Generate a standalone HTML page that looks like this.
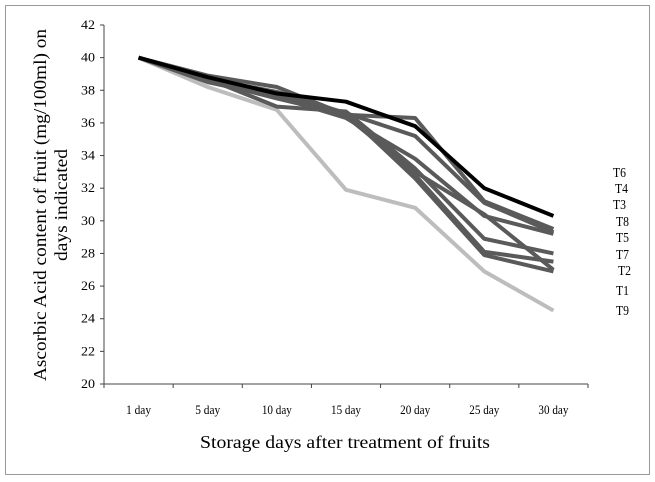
<!DOCTYPE html>
<html><head><meta charset="utf-8"><style>
html,body{margin:0;padding:0;background:#fff;}
svg{display:block;}
svg text{font-family:"Liberation Serif","Times New Roman",serif;}
</style></head><body>
<svg id="chart" width="655" height="482" viewBox="0 0 655 482">
<rect x="5.5" y="5.5" width="644" height="469" fill="#fff" stroke="#999" stroke-width="1"/>
<g id="axes"></g>
<g id="series"></g>
<g id="labels"></g>
<text x="345" y="448" text-anchor="middle" font-size="18" textLength="290" lengthAdjust="spacingAndGlyphs">Storage days after treatment of fruits</text>
<text transform="translate(46,205) rotate(-90)" text-anchor="middle" font-size="18"><tspan x="0" y="0" textLength="352" lengthAdjust="spacingAndGlyphs">Ascorbic Acid content of fruit (mg/100ml) on</tspan><tspan x="0" y="21" textLength="112" lengthAdjust="spacingAndGlyphs">days indicated</tspan></text>
</svg>
<script>
const categories = ["1 day","5 day","10 day","15 day","20 day","25 day","30 day"];
const yTicks = [20,22,24,26,28,30,32,34,36,38,40,42];
const seriesNames = ["T9","T1","T2","T7","T5","T8","T3","T4","T6"];
const T9 = [40,38.2,36.8,31.9,30.8,26.9,24.5];
const T1 = [40,38.5,37.6,36.6,32.6,27.9,26.9];
const T2 = [40,38.7,37.7,36.4,33.0,30.4,27.0];
const T7 = [40,38.6,37.5,36.5,32.8,28.1,27.5];
const T5 = [40,38.7,37.0,36.7,33.2,28.9,28.0];
const T8 = [40,38.8,37.6,36.3,33.8,30.3,29.2];
const T3 = [40,38.7,37.9,36.6,35.2,31.1,29.3];
const T4 = [40,38.9,38.2,36.5,36.3,31.2,29.5];
const T6 = [40,38.8,37.8,37.3,35.8,32.0,30.3];
const seriesValues = [T9,T1,T2,T7,T5,T8,T3,T4,T6];
const labelOrder = ["T6","T4","T3","T8","T5","T7","T2","T1","T9"];

const NS="http://www.w3.org/2000/svg";
const x0=104,x1=588,yTop=25,yBot=384,yMin=20,yMax=42;
const bw=(x1-x0)/categories.length;
function xPos(i){return x0+bw*(i+0.5);}
function yPos(v){return yBot-(v-yMin)/(yMax-yMin)*(yBot-yTop);}
function mk(tag,attrs,parent){const e=document.createElementNS(NS,tag);for(const k in attrs)e.setAttribute(k,attrs[k]);parent.appendChild(e);return e;}
const axes=document.getElementById('axes');
let e=mk('line',{x1:x0,y1:yTop,x2:x0,y2:yBot,stroke:'#444','stroke-width':1},axes);


e=mk('line',{x1:x0,y1:yBot,x2:x1,y2:yBot,stroke:'#444','stroke-width':1},axes);


yTicks.forEach(t=>{
  const y=yPos(t);
  const l=mk('line',{x1:x0-4,y1:y,x2:x0,y2:y,stroke:'#444'},axes);
  
  
  const tx=mk('text',{x:x0-9,y:y+4,'text-anchor':'end','font-size':13,textLength:14,lengthAdjust:'spacingAndGlyphs'},axes);
  tx.textContent=t;
  
  
});
for(let i=0;i<=categories.length;i++){
  const x=x0+bw*i;
  const l=mk('line',{x1:x,y1:yBot,x2:x,y2:yBot+4,stroke:'#444'},axes);
  
  
}
categories.forEach((c,i)=>{
  const tx=mk('text',{x:xPos(i),y:414,'text-anchor':'middle','font-size':13,textLength:c.length>5?30:25,lengthAdjust:'spacingAndGlyphs'},axes);
  tx.textContent=c;
  
  
});
const sg=document.getElementById('series');
seriesNames.forEach((n,si)=>{
  const vals=seriesValues[si];
  const col=n==='T9'?'#bdbdbd':(n==='T6'?'#000':'#5a5a5a');
  const p=mk('polyline',{points:vals.map((v,i)=>xPos(i)+','+yPos(v)).join(' '),fill:'none',stroke:col,'stroke-width':4,'stroke-linejoin':'round'},sg);
  
  
});
const lg=document.getElementById('labels');
labelOrder.forEach((n,i)=>{
  const ys=[177,193,209,226,242,259,275,295,315];
  const xs=[613,615,613,616,616,616,618,616,616];
  const tx=mk('text',{x:xs[i],y:ys[i],'font-size':14,textLength:13,lengthAdjust:'spacingAndGlyphs'},lg);
  tx.textContent=n;
  
  
});
</script>
</body></html>
